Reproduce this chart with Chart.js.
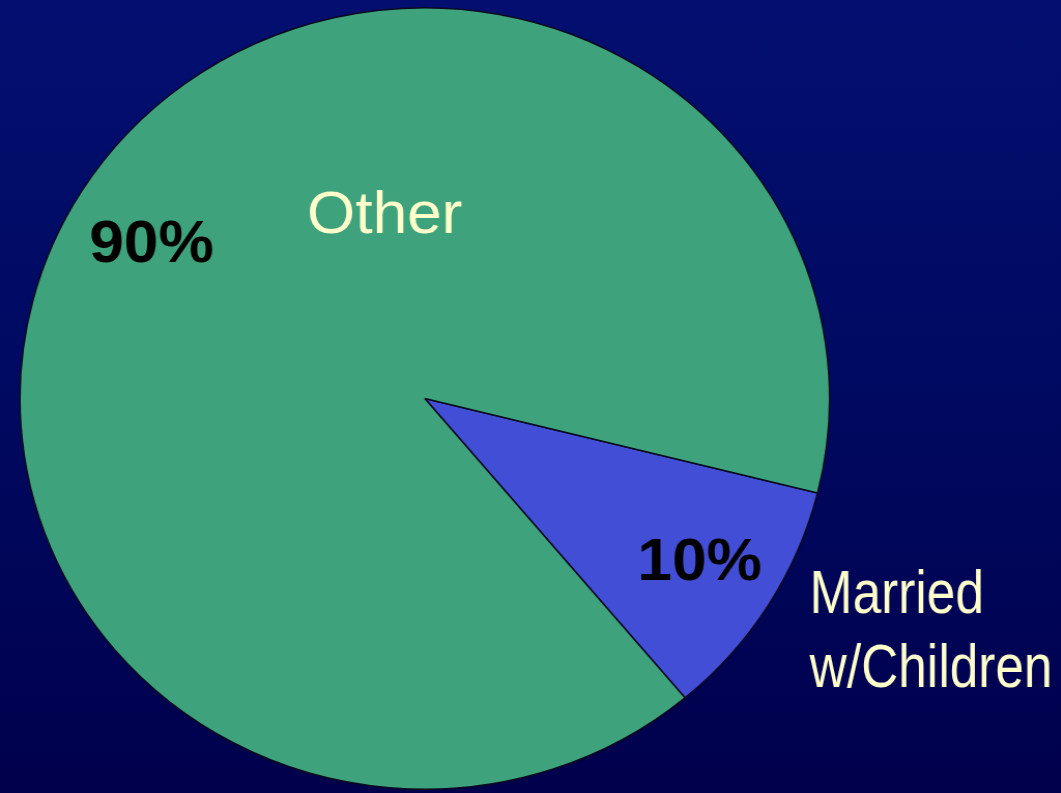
<!DOCTYPE html>
<html>
  <head>
    <script src="https://cdn.jsdelivr.net/npm/chart.js@4.4.0/dist/chart.umd.min.js"></script>
    <style type="text/css">
      html, body { margin: 0; padding: 0; overflow: hidden; }
      body { width: 1061px; height: 793px; background: linear-gradient(to bottom, #030f70 0%, #000a62 45%, #00004c 100%); }
      .wrap { width: 1024px; height: 793px; transform: scaleX(1.036); transform-origin: 0 0; }
    </style>
  </head>

  <body>
    <div class="wrap">
      <canvas id="canvas" width="1024" height="793"></canvas>
    </div>

    <script type="text/javascript">
      var categories = ["Married w/Children", "Other"];
      var shares = [10, 90];
      var sliceColors = ["#434ed6", "#3ea37c"];
      var percentLabels = ["10%", "90%"];

      // where the texts sit, as fractions of the radius from the pie centre
      var pctSpots = [[0.679, 0.464], [-0.675, -0.349]];
      var nameSpots = [[0.951, 0.549], [-0.099, -0.423]];

      var labelPlugin = {
        id: "sliceLabels",
        afterDatasetsDraw: function(chart) {
          var ctx = chart.ctx;
          var arc = chart.getDatasetMeta(0).data[0];
          var cx = arc.x, cy = arc.y, r = arc.outerRadius;

          ctx.save();
          ctx.textBaseline = "alphabetic";

          ctx.fillStyle = "#000000";
          ctx.textAlign = "center";
          ctx.font = "bold 60px 'Liberation Sans', Arial, sans-serif";
          percentLabels.forEach(function(txt, i) {
            ctx.fillText(txt, cx + pctSpots[i][0] * r, cy + pctSpots[i][1] * r);
          });

          ctx.fillStyle = "#ffffcc";

          // "Other" inside the big slice
          ctx.font = "60px 'Liberation Sans', Arial, sans-serif";
          ctx.fillText(categories[1], cx + nameSpots[1][0] * r, cy + nameSpots[1][1] * r);

          // narrow two line label outside the small slice
          var lines = categories[0].split(" ");
          var x0 = cx + nameSpots[0][0] * r, y0 = cy + nameSpots[0][1] * r;
          ctx.font = "62px 'Liberation Sans', Arial, sans-serif";
          ctx.textAlign = "left";
          lines.forEach(function(line, i) {
            ctx.save();
            ctx.translate(x0, y0 + i * 74);
            ctx.scale(0.8, 1);
            ctx.fillText(line, 0, 0);
            ctx.restore();
          });

          ctx.restore();
        }
      };

      var ctx = document.getElementById("canvas").getContext("2d");
      new Chart(ctx, {
        type: "pie",
        data: {
          labels: categories,
          datasets: [{
            data: shares,
            backgroundColor: sliceColors,
            borderColor: "#0a0a20",
            borderWidth: 1.5
          }]
        },
        options: {
          responsive: false,
          animation: false,
          rotation: 104,
          layout: { padding: { left: 18, right: 222, top: 7, bottom: 3 } },
          plugins: {
            legend: { display: false },
            tooltip: { enabled: false }
          }
        },
        plugins: [labelPlugin]
      });
    </script>
  </body>
</html>
